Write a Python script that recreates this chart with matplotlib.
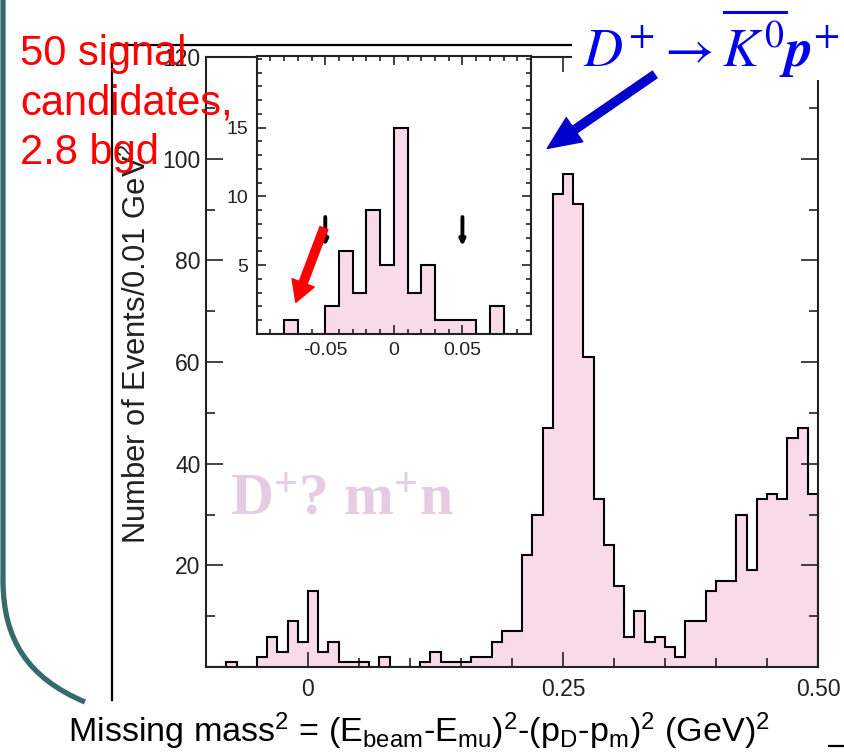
import matplotlib
matplotlib.use('Agg')
import matplotlib.pyplot as plt
import numpy as np
from matplotlib.path import Path
from matplotlib.patches import PathPatch, Rectangle, FancyArrowPatch
from matplotlib.lines import Line2D
from matplotlib.ticker import MultipleLocator, FixedLocator

# ---------------- data ----------------
bin_lo = -0.10
bin_width = 0.01
counts = [0, 0, 1, 0, 0, 2, 6, 3, 9, 5,
          15, 3, 5, 1, 1, 1, 0, 2, 0, 0,
          0, 1, 3, 1, 1, 1, 2, 2, 5, 7,
          7, 22, 30, 47, 93, 97, 91, 61, 33, 24,
          16, 6, 11, 5, 6, 4, 2, 9, 9, 15,
          17, 17, 30, 19, 33, 34, 33, 45, 47, 34]
inset_nbins = 20
main_xticks = [0, 0.25, 0.50]
main_xticklabels = ['0', '0.25', '0.50']
main_yticks = [20, 40, 60, 80, 100, 120]
inset_xticks = [-0.05, 0, 0.05]
inset_xticklabels = ['-0.05', '0', '0.05']
inset_yticks = [5, 10, 15]
cut_positions = [-0.05, 0.05]

edges = bin_lo + bin_width * np.arange(len(counts) + 1)

W, H = 845, 756
fig = plt.figure(figsize=(W / 100, H / 100), dpi=100)
fig.patch.set_facecolor('white')

def fx(x):
    return x / W

def fy(y):
    return 1 - y / H

FILL = '#F9DAE9'
SANS = ['Liberation Sans', 'DejaVu Sans']

# ---------------- main axes ----------------
ax = fig.add_axes([fx(206), fy(667), (818 - 206) / W, (667 - 57) / H])
ax.stairs(counts, edges, fill=True, color=FILL, zorder=1)
ax.stairs(counts, edges, color='black', linewidth=1.5, zorder=2)
ax.set_xlim(-0.1, 0.5)
ax.set_ylim(0, 120)
ax.xaxis.set_major_locator(FixedLocator(main_xticks))
ax.set_xticklabels(main_xticklabels)
ax.xaxis.set_minor_locator(MultipleLocator(0.05))
ax.yaxis.set_major_locator(FixedLocator(main_yticks))
ax.yaxis.set_minor_locator(MultipleLocator(10))
ax.tick_params(which='both', direction='in', top=True, right=True, width=1.2, colors='#222222')
ax.tick_params(which='major', length=12.5)
ax.tick_params(which='minor', length=6.5)
ax.tick_params(axis='x', which='major', length=11, pad=8)
ax.tick_params(axis='y', which='major', pad=4)
for lab in ax.get_xticklabels() + ax.get_yticklabels():
    lab.set_fontfamily(SANS)
    lab.set_fontsize(16.5)
    lab.set_color('#222222')
for s in ax.spines.values():
    s.set_linewidth(1.5)
    s.set_color('#222222')

# ---------------- inset ----------------
axi = fig.add_axes([fx(256.7), fy(334), (531 - 256.7) / W, (334 - 56) / H])
axi.set_facecolor('white')
axi.stairs(counts[:inset_nbins], edges[:inset_nbins + 1], fill=True, color=FILL, zorder=1)
axi.stairs(counts[:inset_nbins], edges[:inset_nbins + 1], color='black', linewidth=1.5, zorder=2)
axi.set_xlim(-0.1, 0.1)
axi.set_ylim(0, 20.2)
axi.xaxis.set_major_locator(FixedLocator(inset_xticks))
axi.set_xticklabels(inset_xticklabels)
axi.xaxis.set_minor_locator(MultipleLocator(0.01))
axi.yaxis.set_major_locator(FixedLocator(inset_yticks))
axi.yaxis.set_minor_locator(MultipleLocator(1))
axi.tick_params(which='both', direction='in', top=True, right=True, width=1.2, colors='#222222')
axi.tick_params(which='major', length=6.5, pad=6)
axi.tick_params(which='minor', length=3.5)
for lab in axi.get_xticklabels() + axi.get_yticklabels():
    lab.set_fontfamily(SANS)
    lab.set_fontsize(14)
    lab.set_color('#222222')
for s in axi.spines.values():
    s.set_linewidth(1.5)
    s.set_color('#222222')

for xc in cut_positions:
    axi.annotate('', xy=(xc, 6.2), xytext=(xc, 8.7),
                 arrowprops=dict(arrowstyle='-|>', color='black', lw=2.8, mutation_scale=8),
                 zorder=5)
axi.annotate('', xy=(-0.0715, 2.3), xytext=(-0.051, 7.7),
             arrowprops=dict(facecolor='#FF0000', edgecolor='#FF0000', width=6,
                             headwidth=17, headlength=15, shrink=0), zorder=6)

# ---------------- slide decorations ----------------
verts = [(3, 0), (3, 580), (3, 640), (28, 678), (85, 702)]
codes = [Path.MOVETO, Path.LINETO, Path.CURVE4, Path.CURVE4, Path.CURVE4]
p = Path([(fx(x), fy(y)) for x, y in verts], codes)
fig.add_artist(PathPatch(p, facecolor='none', edgecolor='#356B6B', lw=3.8,
                         transform=fig.transFigure, zorder=1))
fig.add_artist(Line2D([fx(112), fx(112)], [fy(45), fy(700)], color='black', lw=1.6,
                      transform=fig.transFigure, zorder=1))
fig.add_artist(Line2D([fx(112), fx(572)], [fy(45), fy(45)], color='black', lw=1.6,
                      transform=fig.transFigure, zorder=1))
fig.add_artist(Line2D([fx(829), fx(845)], [fy(746), fy(746)], color='black', lw=1.6,
                      transform=fig.transFigure, zorder=1))

fig.add_artist(Rectangle((fx(572), fy(80)), (845 - 572) / W, 80 / H, facecolor='white',
                         edgecolor='none', transform=fig.transFigure, zorder=2.5))

ftxt = fig.text(fx(583), fy(67), r'$D^{+}\rightarrow\overline{K^{0}}\mathbfit{p}^{+}$',
                color='#0000EE', fontsize=36, math_fontfamily='stix',
                ha='left', va='baseline', zorder=4)
fig.add_artist(FancyArrowPatch((fx(657), fy(73)), (fx(545), fy(150)),
                               transform=fig.transFigure,
                               arrowstyle='simple,head_length=1.7,head_width=1.5,tail_width=0.42',
                               mutation_scale=14, color='#0000CC', zorder=4))

for txt, yb in [('50 signal', 65), ('candidates,', 114), ('2.8 bgd', 164)]:
    fig.text(fx(20), fy(yb), txt, color='#FF0000', fontsize=30, family=SANS,
             ha='left', va='baseline', zorder=4)

fig.text(fx(230), fy(515), r'D$\mathregular{^{+}}$? m$\mathregular{^{+}}$n', color='#E6CCE2',
         fontsize=43, family=['Liberation Serif', 'DejaVu Serif'], fontweight='bold',
         ha='left', va='baseline', zorder=3)

ylab = fig.text(fx(137), fy(344), r'Number of Events/0.01 GeV$\mathregular{^{2}}$', rotation=90,
                fontsize=21, family=SANS, color='#222222', ha='center', va='center', zorder=3)
xlab = fig.text(fx(68), fy(742),
                r'Missing mass$\mathregular{^2}$ = (E$\mathregular{_{beam}}$-E$\mathregular{_{mu}}$)$\mathregular{^2}$-(p$\mathregular{_D}$-p$\mathregular{_m}$)$\mathregular{^2}$ (GeV)$\mathregular{^2}$',
                fontsize=24, family=['Liberation Sans Narrow', 'Liberation Sans', 'DejaVu Sans'],
                color='black', ha='left', va='baseline', zorder=3)

fig.canvas.draw()
r = fig.canvas.get_renderer()
bb = xlab.get_window_extent(r)
xlab.set_fontsize(xlab.get_fontsize() * 702 / bb.width)
bb = ylab.get_window_extent(r)
ylab.set_fontsize(ylab.get_fontsize() * 400 / bb.height)
bb = ftxt.get_window_extent(r)
ftxt.set_fontsize(ftxt.get_fontsize() * 257 / bb.width)

fig.savefig('out.png', dpi=100, facecolor='white')
